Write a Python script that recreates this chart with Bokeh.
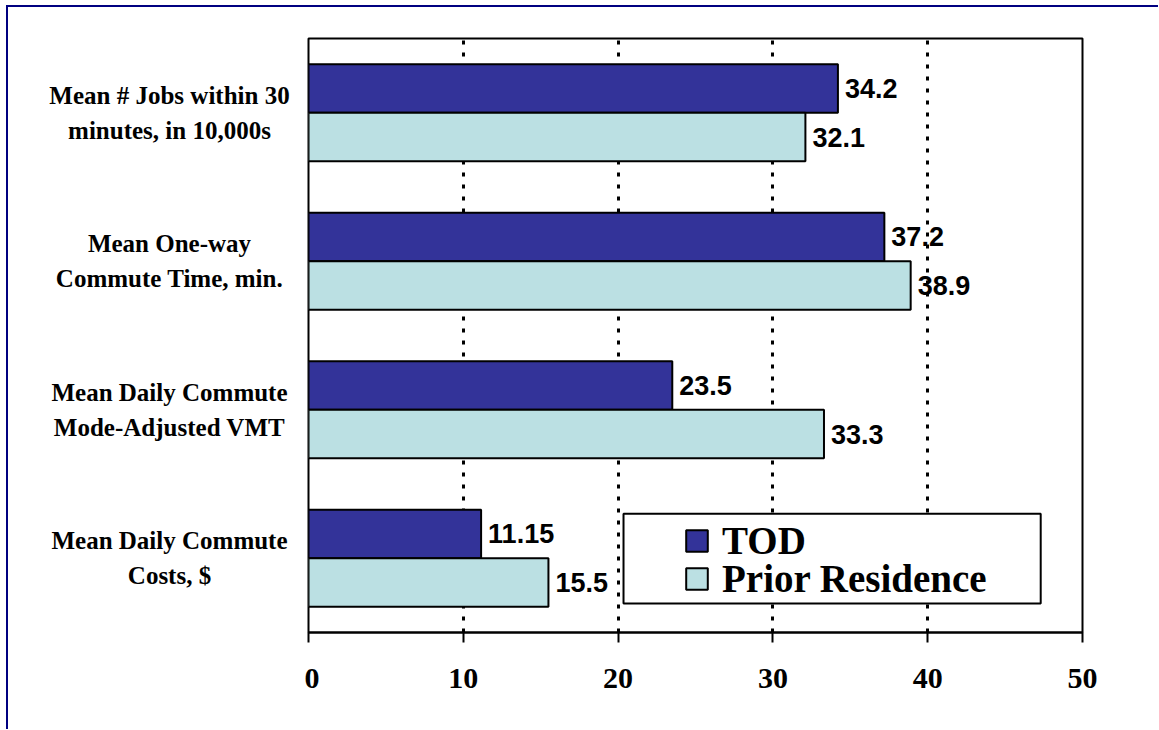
from bokeh.plotting import figure
from bokeh.layouts import row
from bokeh.models import (ColumnDataSource, LabelSet, Range1d, FixedTicker,
                          Legend, LegendItem, BoxAnnotation)
from bokeh.embed import file_html
from bokeh.resources import INLINE
from bokeh.core.properties import value

# ---- data ----
categories = [
    "Mean # Jobs within 30\nminutes, in 10,000s",
    "Mean One-way\nCommute Time, min.",
    "Mean Daily Commute\nMode-Adjusted VMT",
    "Mean Daily Commute\nCosts, $",
]
tod = [34.2, 37.2, 23.5, 11.15]
prior = [32.1, 38.9, 33.3, 15.5]
x_ticks = [0, 10, 20, 30, 40, 50]
series_names = ["TOD", "Prior Residence"]

# ---- style ----
TOD_COLOR = "#333399"
PRIOR_COLOR = "#BBE0E3"
BAR_H = 0.327
SERIF = "Liberation Serif"
SANS = "Liberation Sans"
LEFT_W = 296
LABEL_X = 161
TOTAL_W = 1150
TOTAL_H = 722
TOP = 31
BOTTOM = 97

n = len(categories)
pos = [n - 1 - i for i in range(n)]

src = ColumnDataSource(dict(
    cat=categories,
    pos=pos,
    tod=tod,
    prior=prior,
    tod_y=[p_ + BAR_H / 2 for p_ in pos],
    prior_y=[p_ - BAR_H / 2 for p_ in pos],
    tod_lbl=[str(v) for v in tod],
    prior_lbl=[str(v) for v in prior],
    zero=[0] * n,
    lx=[LABEL_X] * n,
))

y_range = Range1d(-0.5, n - 0.5)

# ---- left panel with category labels ----
pl = figure(width=LEFT_W, height=TOTAL_H, output_backend="svg", toolbar_location=None,
            x_range=Range1d(0, LEFT_W), y_range=y_range,
            x_axis_location=None, y_axis_location=None,
            min_border_left=0, min_border_right=0, min_border_top=TOP,
            min_border_bottom=BOTTOM)
pl.outline_line_color = None
pl.grid.visible = False
pl.text(x="lx", y="pos", text="cat", source=src,
        text_align="center", text_baseline="middle",
        text_font=value(SERIF), text_font_style="bold",
        text_font_size="25px", text_color="black", text_line_height=1.3)

# ---- main chart ----
p = figure(width=TOTAL_W - LEFT_W, height=TOTAL_H, output_backend="svg",
           toolbar_location=None,
           x_range=Range1d(x_ticks[0], x_ticks[-1]), y_range=y_range,
           min_border_left=4, min_border_right=76, min_border_top=TOP,
           min_border_bottom=BOTTOM)

p.outline_line_color = "black"
p.outline_line_width = 2
p.yaxis.visible = False
p.ygrid.visible = False

p.xaxis.ticker = FixedTicker(ticks=x_ticks)
p.xaxis.axis_line_width = 2
p.xaxis.axis_line_color = "black"
p.xaxis.major_tick_line_width = 2
p.xaxis.major_tick_line_color = "black"
p.xaxis.major_tick_in = 0
p.xaxis.major_tick_out = 10
p.xaxis.minor_tick_line_color = None
p.xaxis.major_label_text_font = SERIF
p.xaxis.major_label_text_font_style = "bold"
p.xaxis.major_label_text_font_size = "30px"
p.xaxis.major_label_text_color = "black"
p.xaxis.major_label_standoff = 26

p.xgrid.grid_line_color = "black"
p.xgrid.grid_line_width = 3
p.xgrid.grid_line_dash = "4 8"

r_tod = p.hbar(y="tod_y", left="zero", right="tod", height=BAR_H, source=src,
               fill_color=TOD_COLOR, line_color="black", line_width=2)
r_prior = p.hbar(y="prior_y", left="zero", right="prior", height=BAR_H, source=src,
                 fill_color=PRIOR_COLOR, line_color="black", line_width=2)

for ycol, xcol, tcol in [("tod_y", "tod", "tod_lbl"), ("prior_y", "prior", "prior_lbl")]:
    p.add_layout(LabelSet(x=xcol, y=ycol, text=tcol, source=src, x_offset=7,
                          text_baseline="middle", text_align="left",
                          text_font=value(SANS), text_font_style="bold",
                          text_font_size="27px", text_color="black"))

# legend frame
p.add_layout(BoxAnnotation(left=20.35, right=47.3, top=0.30, bottom=-0.305,
                           fill_color="white", fill_alpha=1.0,
                           line_color="black", line_alpha=1.0, line_width=2))

for name, rend, ly in [(series_names[0], r_tod, 69), (series_names[1], r_prior, 31)]:
    lg = Legend(items=[LegendItem(label=name, renderers=[rend])],
                location=(375, ly), padding=0, margin=0,
                glyph_width=27, glyph_height=27, label_standoff=12,
                label_text_font=SERIF, label_text_font_style="bold",
                label_text_font_size="39px", label_text_color="black",
                border_line_color=None, background_fill_alpha=0)
    p.add_layout(lg)

layout = row(pl, p)
layout.styles = {"border-left": "2px solid #000080", "border-top": "2px solid #000080",
                 "margin-left": "6px", "margin-top": "5px"}

open("out.html", "w").write(file_html(layout, INLINE))
